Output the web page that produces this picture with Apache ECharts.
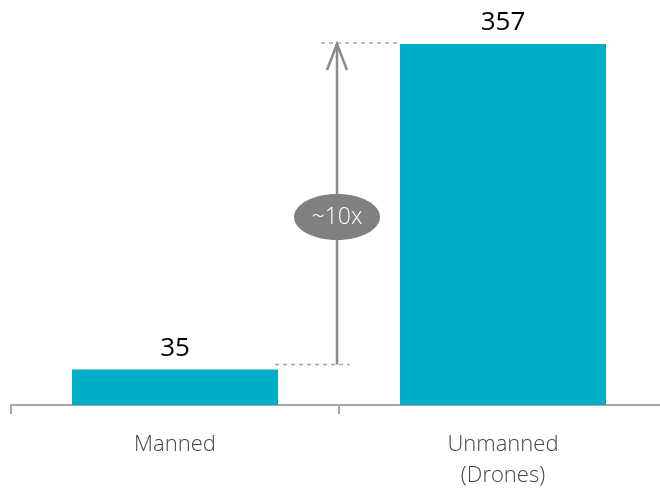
<!DOCTYPE html>
<html><head><meta charset="utf-8">
<script src="https://cdn.jsdelivr.net/npm/echarts@6/dist/echarts.min.js"></script>
<style>html,body{margin:0;padding:0;background:#fff}#c{width:660px;height:489px}</style>
</head><body><div id="c"></div>
<script>
const categories = ['Manned', 'Unmanned\n(Drones)'];
const values = [35, 357];
const ratioLabel = '~10x';

const FONT = '"Open Sans", "DejaVu Sans", sans-serif';
const chart = echarts.init(document.getElementById('c'));
chart.setOption({
  animation: false,
  grid: { left: 11, width: 656, top: 44, bottom: 84, containLabel: false, outerBoundsMode: 'none' },
  xAxis: {
    type: 'category', data: categories,
    axisLine: { lineStyle: { color: '#a6a6a6', width: 2 } },
    axisTick: { show: true, length: 9, lineStyle: { color: '#a6a6a6', width: 2 } },
    axisLabel: { color: '#444', fontSize: 22, fontWeight: 300, fontFamily: FONT, margin: 24, lineHeight: 31 }
  },
  yAxis: { type: 'value', min: 0, max: 357, show: false, splitLine: { show: false } },
  series: [{
    type: 'bar', data: values, barWidth: 206,
    itemStyle: { color: '#00AEC7' },
    label: { show: true, position: 'top', distance: 8, color: '#000', fontSize: 26, fontFamily: FONT }
  }]
});

// annotation positioned from data coordinates
const pLowTop = chart.convertToPixel({ gridIndex: 0 }, [0, values[0]]);
const pHighTop = chart.convertToPixel({ gridIndex: 0 }, [1, values[1]]);
const barHalf = 103;
const ax = (pLowTop[0] + pHighTop[0]) / 2 - 2;
const yLow = pLowTop[1] - 5;
const yHigh = pHighTop[1] - 1;
const dash = { stroke: '#a6a6a6', lineWidth: 1.5, lineDash: [4, 4] };
const arrowStyle = { stroke: '#8a8a8a', lineWidth: 2.5, fill: null };
chart.setOption({
  graphic: [
    { type: 'line', shape: { x1: pLowTop[0] + barHalf - 3, y1: yLow, x2: ax + 13, y2: yLow }, style: dash, z: 10 },
    { type: 'line', shape: { x1: ax - 16, y1: yHigh, x2: pHighTop[0] - barHalf, y2: yHigh }, style: dash, z: 10 },
    { type: 'line', shape: { x1: ax, y1: yLow, x2: ax, y2: yHigh + 1 }, style: arrowStyle, z: 10 },
    { type: 'polyline', shape: { points: [[ax - 10, yHigh + 27], [ax, yHigh + 1], [ax + 10, yHigh + 27]] }, style: arrowStyle, z: 10 },
    { type: 'ellipse', shape: { cx: ax, cy: 217, rx: 43, ry: 23 }, style: { fill: '#808080' }, z: 11 },
    { type: 'text', x: ax, y: 217, style: { text: ratioLabel, fill: '#fff', fontSize: 23, fontWeight: 300, fontFamily: FONT, align: 'center', verticalAlign: 'middle' }, z: 12 }
  ]
});
</script></body></html>
